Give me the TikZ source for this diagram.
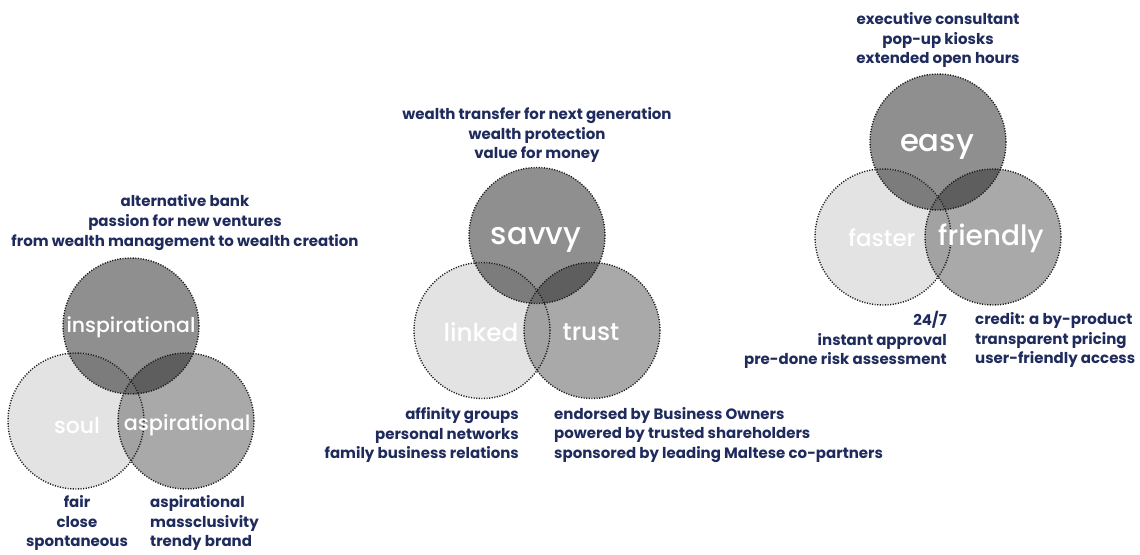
\documentclass[tikz,border=0pt]{standalone}
\usepackage{fontspec}
\setmainfont{Poppins}
\newfontfamily\wordfont{Poppins Medium}
\definecolor{navy}{HTML}{1F2B5C}
\definecolor{ctop}{HTML}{8F8F8F}
\definecolor{cleft}{HTML}{E3E3E3}
\definecolor{cright}{HTML}{A9A9A9}
\definecolor{ctl}{HTML}{7C7C7C}
\definecolor{ctr}{HTML}{5E5E5E}
\definecolor{clr}{HTML}{A2A2A2}
\definecolor{cmid}{HTML}{6A6A6A}
\tikzset{
  ring/.style={circle, draw=black!90, line width=1.4pt, dash pattern=on 1.1pt off 1.5pt,
    minimum size=136pt, inner sep=0pt},
  info/.style={text=navy, font=\bfseries\fontsize{15}{19.8}\selectfont, inner sep=0pt},
  word/.style={text=white, inner sep=0pt},
}
% three overlapping circles: #1 name prefix, #2 centre of the upper circle
\newcommand\tripleset[2]{%
  \coordinate (#1t) at #2;
  \coordinate (#1l) at ([shift={(-55,95)}]#1t);
  \coordinate (#1r) at ([shift={(55,95)}]#1t);
  \fill[ctop] (#1t) circle (68);
  \fill[cleft] (#1l) circle (68);
  \fill[cright] (#1r) circle (68);
  \begin{scope}\clip (#1t) circle (68);
    \fill[ctl] (#1l) circle (68);
    \fill[ctr] (#1r) circle (68);
  \end{scope}
  \begin{scope}\clip (#1l) circle (68);
    \fill[clr] (#1r) circle (68);
  \end{scope}
  \begin{scope}\clip (#1t) circle (68); \clip (#1l) circle (68);
    \fill[cmid] (#1r) circle (68);
  \end{scope}
  \node[ring] (#1T) at (#1t) {};
  \node[ring] (#1L) at (#1l) {};
  \node[ring] (#1R) at (#1r) {};
}
% white word inside a circle: #1 name, #2 x,y, #3 size, #4 text
\newcommand\circleword[4]{%
  \node[word, font=\wordfont\fontsize{#3}{#3}\selectfont] (#1) at (#2) {#4};
}
\begin{document}
\begin{tikzpicture}[x=1pt,y=-1pt]
\useasboundingbox (0,0) rectangle (1140,554);

% left group
\tripleset{a}{(131,326)}
\circleword{wInsp}{131,327}{20.4}{inspirational}
\circleword{wSoul}{77,425}{22}{soul}
\circleword{wAsp}{187,425}{20.8}{aspirational}
\node[info, align=center] (tA) at (185,222.5)
  {alternative bank\\passion for new ventures\\from wealth management to wealth creation};
\node[info, align=center] (bA1) at (77,523) {fair\\close\\spontaneous};
\node[info, align=left, anchor=west] (bA2) at (150,523)
  {aspirational\\massclusivity\\trendy brand};

% middle group
\tripleset{b}{(537,235.5)}
\circleword{wSavvy}{536,240}{30.6}{savvy}
\circleword{wLinked}{481,332}{24.7}{linked}
\circleword{wTrust}{591,332}{24.5}{trust}
\node[info, align=center] (tB) at (537,135)
  {wealth transfer for next generation\\wealth protection\\value for money};
\node[info, align=right, anchor=east] (bB1) at (519,435)
  {affinity groups\\personal networks\\family business relations};
\node[info, align=left, anchor=west] (bB2) at (554,435)
  {endorsed by Business Owners\\powered by trusted shareholders\\sponsored by leading Maltese co-partners};

% right group
\tripleset{c}{(938,142)}
\circleword{wEasy}{937,147}{30.7}{easy}
\circleword{wFaster}{882,238}{23}{faster}
\circleword{wFriendly}{991,238}{28}{friendly}
\node[info, align=center] (tC) at (938,40)
  {executive consultant\\pop-up kiosks\\extended open hours};
\node[info, align=right, anchor=east] (bC1) at (947,340)
  {24/7\\instant approval\\pre-done risk assessment};
\node[info, align=left, anchor=west] (bC2) at (975,340)
  {credit: a by-product\\transparent pricing\\user-friendly access};
\end{tikzpicture}
\end{document}
